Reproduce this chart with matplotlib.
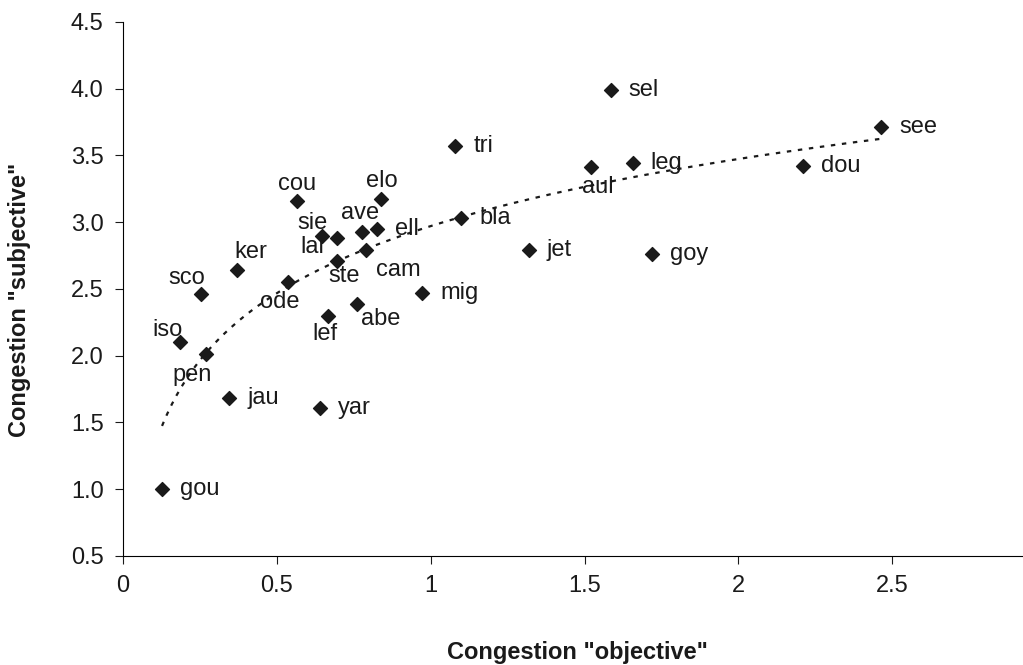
import numpy as np
import matplotlib
matplotlib.use('Agg')
import matplotlib.pyplot as plt

plt.rcParams['font.family'] = ['Liberation Sans', 'DejaVu Sans']

names = ['gou', 'iso', 'sco', 'pen', 'ker', 'jau', 'cou', 'ode', 'sie', 'lal',
         'ste', 'lef', 'yar', 'abe', 'cam', 'ave', 'ell', 'elo', 'mig', 'tri',
         'bla', 'jet', 'aul', 'leg', 'sel', 'goy', 'dou', 'see']
objective = [0.127, 0.185, 0.254, 0.27, 0.371, 0.345, 0.566, 0.537, 0.648, 0.696,
             0.696, 0.667, 0.641, 0.761, 0.79, 0.778, 0.827, 0.84, 0.973, 1.08,
             1.10, 1.318, 1.52, 1.656, 1.585, 1.72, 2.21, 2.463]
subjective = [1.00, 2.10, 2.46, 2.01, 2.64, 1.68, 3.16, 2.55, 2.90, 2.88,
              2.71, 2.30, 1.61, 2.39, 2.79, 2.93, 2.95, 3.17, 2.47, 3.57,
              3.03, 2.79, 3.41, 3.44, 3.99, 2.76, 3.42, 3.71]

# label offsets in points (dx, dy, ha)
R = (13, 0, 'left')
offsets = {
    'gou': R, 'jau': R, 'yar': R, 'mig': R, 'tri': R, 'bla': R, 'jet': R,
    'leg': R, 'sel': R, 'goy': R, 'dou': R, 'see': R, 'ell': R,
    'iso': (-9, 9, 'center'), 'sco': (-10, 12, 'center'), 'pen': (-10, -15, 'center'),
    'ker': (10, 13, 'center'), 'cou': (0, 12, 'center'), 'ode': (-6, -14, 'center'),
    'sie': (-7, 9, 'center'), 'lal': (-18, -6, 'center'), 'ste': (5, -11, 'center'),
    'lef': (-2, -13, 'center'), 'abe': (17, -11, 'center'), 'cam': (23, -14, 'center'),
    'ave': (-2, 13, 'center'), 'elo': (0, 13, 'center'), 'aul': (5, -14, 'center'),
}

fig = plt.figure(figsize=(10.23, 6.65), dpi=100)
ax = fig.add_axes([0.1202, 0.164, 0.8798, 0.803])

ax.scatter(objective, subjective, marker='D', s=50, color='#1a1a1a', zorder=3)

# logarithmic trend line
b, a = np.polyfit(np.log(objective), subjective, 1)
xs = np.linspace(min(objective), max(objective), 300)
ax.plot(xs, a + b * np.log(xs), ls=(0, (2, 3)), color='#1a1a1a', lw=1.6)

for n, x, y in zip(names, objective, subjective):
    dx, dy, ha = offsets[n]
    ax.annotate(n, (x, y), xytext=(dx, dy), textcoords='offset points',
                ha=ha, va='center', fontsize=17, color='#1a1a1a')

ax.set_xlim(0, 2.925)
ax.set_ylim(0.5, 4.5)
ax.set_xticks([0, 0.5, 1, 1.5, 2, 2.5])
ax.set_xticklabels(['0', '0.5', '1', '1.5', '2', '2.5'])
ax.set_yticks(np.arange(0.5, 4.51, 0.5))
ax.set_yticklabels(['%.1f' % v for v in np.arange(0.5, 4.51, 0.5)])
ax.tick_params(labelsize=17, length=6, pad=8, colors='#1a1a1a')
ax.spines['top'].set_visible(False)
ax.spines['right'].set_visible(False)

fig.text(577 / 1023, 1 - 652 / 665, 'Congestion "objective"', fontsize=17,
         fontweight='bold', ha='center', va='center', color='#1a1a1a')
fig.text(20 / 1023, 1 - 300 / 665, 'Congestion "subjective"', fontsize=17,
         fontweight='bold', ha='center', va='center', rotation=90, color='#1a1a1a')

fig.savefig('out.png', dpi=100)
